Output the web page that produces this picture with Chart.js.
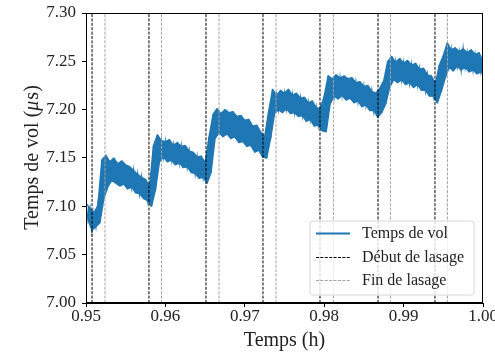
<!DOCTYPE html>
<html>
<head>
<meta charset="utf-8">
<script src="https://cdn.jsdelivr.net/npm/chart.js@4/dist/chart.umd.min.js"></script>
<style>
  html, body { margin: 0; padding: 0; background: #fff; }
  #wrap { width: 495px; height: 352px; }
</style>
</head>
<body>
<div id="wrap"><canvas id="c" width="495" height="352"></canvas></div>
<script>
// ---- Data ----
const sampleStart = 0.95;      // h
const sampleStep = 0.0005;     // h
// upper / lower envelope of the noisy time-of-flight band (µs)
const tofHigh = [7.103,7.098,7.093,7.101,7.148,7.153,7.146,7.150,7.144,7.147,
  7.143,7.141,7.137,7.133,7.130,7.128,7.120,7.163,7.174,7.168,
  7.167,7.169,7.163,7.166,7.162,7.163,7.157,7.156,7.151,7.152,
  7.145,7.172,7.195,7.201,7.196,7.200,7.197,7.198,7.193,7.194,
  7.189,7.190,7.183,7.184,7.177,7.172,7.198,7.221,7.215,7.220,
  7.217,7.221,7.215,7.217,7.212,7.213,7.207,7.209,7.202,7.201,
  7.214,7.235,7.232,7.236,7.233,7.235,7.232,7.233,7.228,7.229,
  7.224,7.225,7.219,7.217,7.222,7.230,7.250,7.255,7.249,7.253,
  7.248,7.251,7.246,7.248,7.242,7.243,7.236,7.235,7.227,7.246,
  7.256,7.269,7.262,7.264,7.260,7.263,7.259,7.262,7.257,7.259,
  7.250];
const tofLow = [7.086,7.075,7.079,7.083,7.108,7.120,7.127,7.124,7.121,7.123,
  7.118,7.120,7.114,7.113,7.108,7.106,7.100,7.117,7.146,7.151,
  7.146,7.148,7.143,7.145,7.140,7.141,7.135,7.134,7.129,7.130,
  7.124,7.135,7.170,7.176,7.172,7.175,7.170,7.172,7.166,7.167,
  7.162,7.163,7.156,7.158,7.151,7.150,7.170,7.196,7.200,7.197,
  7.201,7.196,7.197,7.193,7.194,7.188,7.190,7.183,7.184,7.178,
  7.177,7.206,7.214,7.211,7.215,7.210,7.212,7.207,7.209,7.203,
  7.205,7.199,7.199,7.192,7.197,7.206,7.223,7.231,7.228,7.231,
  7.226,7.228,7.223,7.226,7.220,7.220,7.214,7.214,7.207,7.219,
  7.233,7.244,7.240,7.245,7.241,7.244,7.239,7.241,7.237,7.239,
  7.234];
const debutTimes = [0.95076,0.95793,0.96511,0.97229,0.97947,0.98678,0.99395];
const finTimes   = [0.95239,0.95951,0.96675,0.97393,0.98116,0.98834,0.99552];
const xTicks = [0.95,0.96,0.97,0.98,0.99,1.00];
const yTicks = [7.00,7.05,7.10,7.15,7.20,7.25,7.30];
const yMin = 7.00, yMax = 7.30, xMin = 0.95, xMax = 1.00;
const legendLabels = ['Temps de vol','Début de lasage','Fin de lasage'];

// ---- Build datasets ----
const hiPoints = tofHigh.map((h, i) => ({x: sampleStart + i * sampleStep, y: h}));
const loPoints = tofLow.map((l, i) => ({x: sampleStart + i * sampleStep + sampleStep / 2, y: l}));
const tofPoints = [];
tofHigh.forEach((h, i) => { tofPoints.push(hiPoints[i], loPoints[i]); });
function vlinePoints(ts) {
  const pts = [];
  ts.forEach(t => { pts.push({x: t, y: yMin}, {x: t, y: yMax}, {x: t, y: null}); });
  return pts;
}

const SERIF = '"Liberation Serif", "DejaVu Serif", serif';
const BLUE = '#1f77b4';
const DASH_K = [3, 1.4];
const GRAY = '#a3a3a3';

const framePlugin = {
  id: 'frame',
  afterDatasetsDraw(chart) {
    const {ctx, chartArea: a} = chart;
    ctx.save();
    ctx.strokeStyle = '#000';
    ctx.lineWidth = 1;
    ctx.strokeRect(a.left + 0.5, a.top + 0.5, a.right - a.left - 1, a.bottom - a.top - 1);
    // legend
    const bx = 310, by = 221, bw = 164, bh = 74, r = 3;
    ctx.beginPath();
    ctx.moveTo(bx + r, by);
    ctx.arcTo(bx + bw, by, bx + bw, by + bh, r);
    ctx.arcTo(bx + bw, by + bh, bx, by + bh, r);
    ctx.arcTo(bx, by + bh, bx, by, r);
    ctx.arcTo(bx, by, bx + bw, by, r);
    ctx.closePath();
    ctx.fillStyle = 'rgba(255,255,255,0.8)';
    ctx.fill();
    ctx.strokeStyle = '#d6d6d6';
    ctx.lineWidth = 1;
    ctx.stroke();
    const rows = [233, 257, 280];
    const styles = [
      {c: BLUE, w: 2.2, d: []},
      {c: '#000', w: 1, d: DASH_K},
      {c: GRAY, w: 1, d: DASH_K}
    ];
    rows.forEach((y, k) => {
      ctx.beginPath();
      ctx.setLineDash(styles[k].d);
      ctx.strokeStyle = styles[k].c;
      ctx.lineWidth = styles[k].w;
      ctx.moveTo(316, y + 0.5);
      ctx.lineTo(350, y + 0.5);
      ctx.stroke();
      ctx.setLineDash([]);
      ctx.fillStyle = '#222';
      ctx.font = '16px ' + SERIF;
      ctx.textBaseline = 'middle';
      ctx.textAlign = 'left';
      ctx.fillText(legendLabels[k], 362, y + 1);
    });
    // y-axis title with italic mu
    ctx.save();
    ctx.translate(33, (a.top + a.bottom) / 2);
    ctx.rotate(-Math.PI / 2);
    ctx.fillStyle = '#222';
    ctx.textBaseline = 'middle';
    const p1 = 'Temps de vol (', p2 = 'μ', p3 = 's)';
    const fR = '20px ' + SERIF, fI = 'italic 20px ' + SERIF;
    ctx.font = fR; const w1 = ctx.measureText(p1).width, w3 = ctx.measureText(p3).width;
    ctx.font = fI; const w2 = ctx.measureText(p2).width;
    let x0 = -(w1 + w2 + w3) / 2;
    ctx.textAlign = 'left';
    ctx.font = fR; ctx.fillText(p1, x0, 0);
    ctx.font = fI; ctx.fillText(p2, x0 + w1, 0);
    ctx.font = fR; ctx.fillText(p3, x0 + w1 + w2 + 1, 0);
    ctx.restore();
    ctx.restore();
  }
};

new Chart(document.getElementById('c'), {
  type: 'line',
  data: {
    datasets: [
      {label: legendLabels[1], data: vlinePoints(debutTimes), borderColor: '#000', borderWidth: 1,
       borderDash: DASH_K, pointRadius: 0, spanGaps: false, order: 0},
      {label: legendLabels[2], data: vlinePoints(finTimes), borderColor: GRAY, borderWidth: 1,
       borderDash: DASH_K, pointRadius: 0, spanGaps: false, order: 1},
      {label: legendLabels[0], data: tofPoints, borderColor: BLUE, borderWidth: 1.4,
       borderJoinStyle: 'miter', pointRadius: 0, tension: 0, order: 2},
      {label: 'hi', data: hiPoints, borderColor: BLUE, borderWidth: 1.4, borderJoinStyle: 'round',
       pointRadius: 0, tension: 0, fill: false, order: 3},
      {label: 'lo', data: loPoints, borderColor: BLUE, borderWidth: 1.4, borderJoinStyle: 'round',
       backgroundColor: BLUE, pointRadius: 0, tension: 0, fill: '-1', order: 4}
    ]
  },
  options: {
    responsive: false,
    animation: false,
    events: [],
    layout: {padding: {top: 13, right: 12, left: 0, bottom: 0}},
    plugins: {legend: {display: false}, tooltip: {enabled: false}, filler: {propagate: false}},
    scales: {
      x: {
        type: 'linear', min: xMin, max: xMax,
        afterFit(s) { s.height = 49; s.paddingLeft = 0; s.paddingRight = 0; },
        afterBuildTicks(s) { s.ticks = xTicks.map(v => ({value: v})); },
        ticks: {
          color: '#222', padding: 1,
          font: {family: SERIF, size: 17, lineHeight: 1.0},
          callback: v => Number(v).toFixed(2), maxRotation: 0, autoSkip: false
        },
        grid: {drawOnChartArea: false, drawTicks: true, tickLength: 4, color: '#000'},
        border: {display: true, color: '#000', width: 1},
        title: {display: true, text: 'Temps (h)', color: '#222',
          font: {family: SERIF, size: 20, lineHeight: 1.1}, padding: {top: 0, bottom: 0}}
      },
      y: {
        type: 'linear', min: yMin, max: yMax,
        afterFit(s) { s.width = 86; s.paddingTop = 0; s.paddingBottom = 0; },
        afterBuildTicks(s) { s.ticks = yTicks.map(v => ({value: v})); },
        ticks: {
          color: '#222', padding: 6,
          font: {family: SERIF, size: 17},
          callback: v => Number(v).toFixed(2), autoSkip: false
        },
        grid: {drawOnChartArea: false, drawTicks: true, tickLength: 4, color: '#000'},
        border: {display: true, color: '#000', width: 1},
        title: {display: false}
      }
    }
  },
  plugins: [framePlugin]
});
</script>
</body>
</html>
